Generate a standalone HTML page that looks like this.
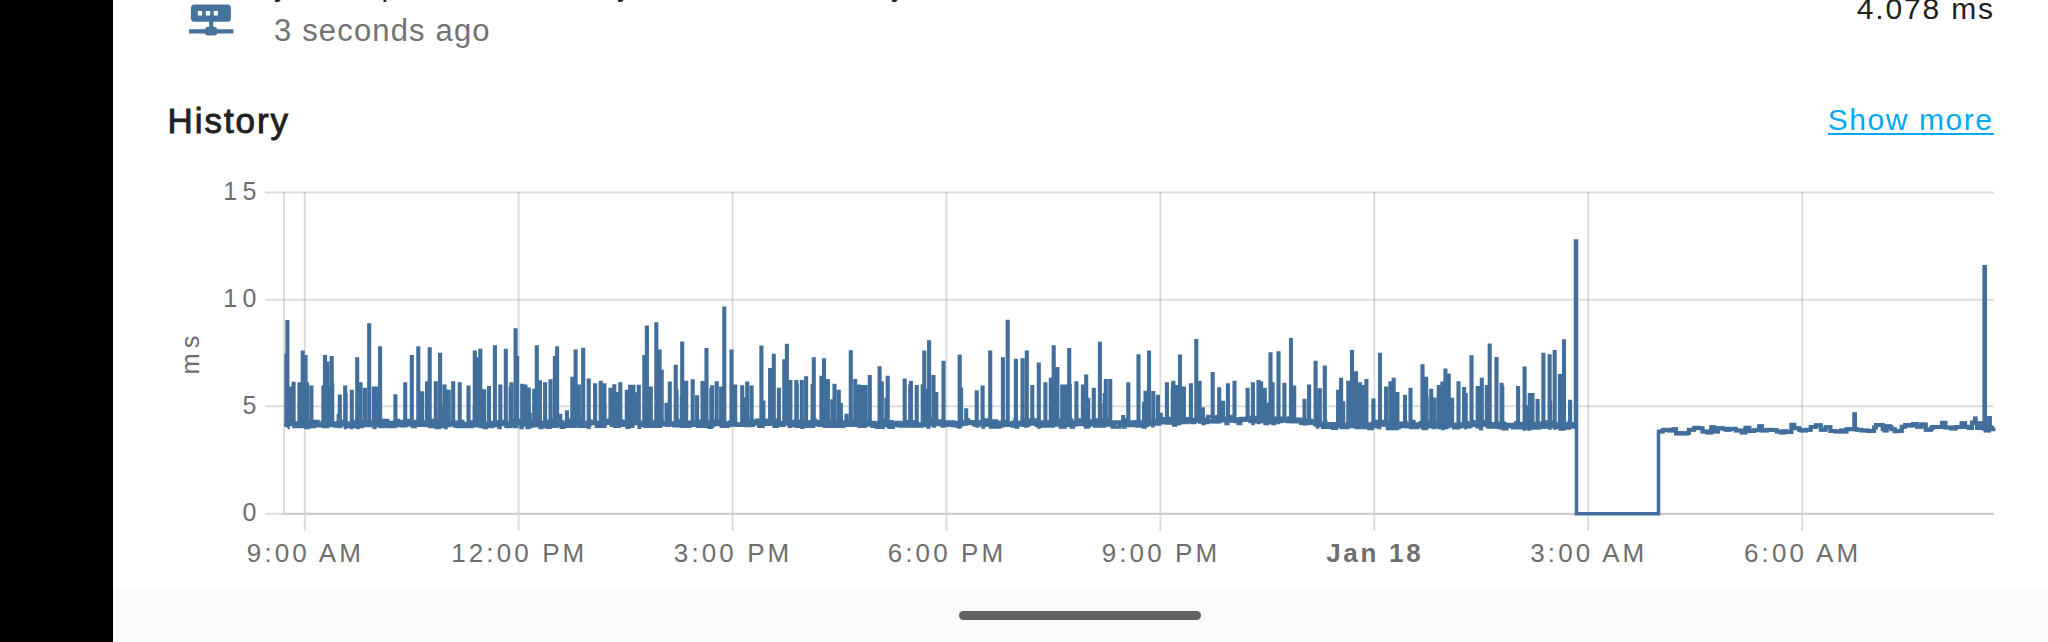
<!DOCTYPE html>
<html><head><meta charset="utf-8"><style>
html,body{margin:0;padding:0;width:2048px;height:642px;overflow:hidden;background:#fff;font-family:"Liberation Sans",sans-serif;}
.abs{position:absolute}
#blk{position:absolute;left:0;top:0;width:112.5px;height:642px;background:#000}
#nav{position:absolute;left:112.5px;top:588px;right:0;bottom:0;background:#fafafa}
#pill{position:absolute;left:959px;top:611px;width:242px;height:9px;border-radius:4.5px;background:#626262}
#uline{position:absolute;left:1828px;top:132.6px;width:166px;height:2.4px;background:#03a9f4}
.t{position:absolute;white-space:nowrap;line-height:1}
.xl{position:absolute;top:540.2px;width:300px;text-align:center;font-size:26px;color:#6e6e6e;letter-spacing:3.1px;line-height:1;white-space:nowrap}
.xl.b{font-weight:bold;letter-spacing:2.72px}
.yl{position:absolute;left:162px;width:100px;text-align:right;font-size:25px;color:#6e6e6e;line-height:1;letter-spacing:5.5px}
#ms{position:absolute;left:0;top:0;font-size:25.5px;line-height:1;color:#6e6e6e;letter-spacing:5px;transform-origin:0 0;transform:translate(178.3px,374.5px) rotate(-90deg);white-space:nowrap}
</style></head><body>
<div id="blk"></div>
<div id="nav"></div>
<div id="pill"></div>
<svg class="abs" style="left:0;top:0" width="260" height="50" viewBox="0 0 260 50">
<path fill="#44739e" d="M194.4 4.4 H227.4 A3.5 3.5 0 0 1 230.9 7.9 V18.3 A3.5 3.5 0 0 1 227.4 21.8 H213.1 V26.8 H214.2 A3.2 3.2 0 0 1 217.4 29.3 H233.5 V33.4 H217.4 A3.2 3.2 0 0 1 214.2 35.5 H208.1 A3.2 3.2 0 0 1 204.9 33.4 H189 V29.3 H204.9 A3.2 3.2 0 0 1 208.1 26.8 H209.2 V21.8 H194.4 A3.5 3.5 0 0 1 190.9 18.3 V7.9 A3.5 3.5 0 0 1 194.4 4.4 Z M197.8 10.9 V15.6 H202.1 V10.9 Z M205.8 10.9 V15.6 H210.1 V10.9 Z M213.7 10.9 V15.6 H218 V10.9 Z"/>
</svg>
<div class="t" id="d1" style="left:274px;top:-29.00px;font-size:30px;color:#212121;">y</div>
<div class="t" id="d2" style="left:381.5px;top:-29.00px;font-size:30px;color:#212121;">p</div>
<div class="t" id="d3" style="left:617px;top:-29.00px;font-size:30px;color:#212121;">y</div>
<div class="t" id="d4" style="left:891px;top:-29.00px;font-size:30px;color:#212121;">y</div>
<div class="t" id="ago" style="left:274px;top:15.36px;font-size:31px;color:#727272;letter-spacing:1.16px">3 seconds ago</div>
<div class="t" id="val" style="left:1856.7px;top:-6.20px;font-size:30px;color:#212121;letter-spacing:1.86px">4.078 ms</div>
<div class="t" id="hist" style="left:167.5px;top:102.67px;font-size:35px;color:#212121;letter-spacing:1.95px;-webkit-text-stroke:0.9px #212121">History</div>
<div class="t" id="more" style="left:1827.7px;top:105.20px;font-size:30px;color:#03a9f4;letter-spacing:1.57px">Show more</div>
<div id="uline"></div>
<svg width="2048" height="642" viewBox="0 0 2048 642" style="position:absolute;left:0;top:0">
<line x1="265" y1="192.6" x2="1994" y2="192.6" stroke="#000" stroke-opacity="0.135" stroke-width="2"/>
<line x1="265" y1="299.8" x2="1994" y2="299.8" stroke="#000" stroke-opacity="0.135" stroke-width="2"/>
<line x1="265" y1="406.3" x2="1994" y2="406.3" stroke="#000" stroke-opacity="0.135" stroke-width="2"/>
<line x1="265" y1="513.8" x2="284" y2="513.8" stroke="#000" stroke-opacity="0.135" stroke-width="2"/>
<line x1="304.8" y1="192" x2="304.8" y2="531" stroke="#000" stroke-opacity="0.135" stroke-width="2"/>
<line x1="518.7" y1="192" x2="518.7" y2="531" stroke="#000" stroke-opacity="0.135" stroke-width="2"/>
<line x1="732.6" y1="192" x2="732.6" y2="531" stroke="#000" stroke-opacity="0.135" stroke-width="2"/>
<line x1="946.5" y1="192" x2="946.5" y2="531" stroke="#000" stroke-opacity="0.135" stroke-width="2"/>
<line x1="1160.4" y1="192" x2="1160.4" y2="531" stroke="#000" stroke-opacity="0.135" stroke-width="2"/>
<line x1="1374.3" y1="192" x2="1374.3" y2="531" stroke="#000" stroke-opacity="0.135" stroke-width="2"/>
<line x1="1588.2" y1="192" x2="1588.2" y2="531" stroke="#000" stroke-opacity="0.135" stroke-width="2"/>
<line x1="1802.1" y1="192" x2="1802.1" y2="531" stroke="#000" stroke-opacity="0.135" stroke-width="2"/>
<line x1="284" y1="192" x2="284" y2="513.8" stroke="#000" stroke-opacity="0.135" stroke-width="2"/>
<line x1="283" y1="513.8" x2="1994" y2="513.8" stroke="#cccccc" stroke-width="2.2"/>
<path d="M284.0 425.0 L286.1 425.0 L286.1 355.6 L286.7 355.6 L286.7 422.5 L287.1 422.5 L287.1 321.8 L287.7 321.8 L287.7 427.5 L287.6 427.5 L287.6 427.5 L288.0 427.5 L288.0 393.3 L288.6 393.3 L288.6 420.5 L290.4 420.5 L290.4 388.3 L291.0 388.3 L291.0 423.5 L290.8 423.5 L290.8 421.5 L292.8 421.5 L292.8 422.5 L292.6 422.5 L292.6 393.8 L293.2 393.8 L293.2 421.5 L293.3 421.5 L293.3 383.5 L293.9 383.5 L293.9 426.5 L296.1 426.5 L296.1 426.5 L299.2 426.5 L299.2 420.5 L299.1 420.5 L299.1 384.0 L299.7 384.0 L299.7 423.5 L302.5 423.5 L302.5 426.5 L302.4 426.5 L302.4 352.3 L303.0 352.3 L303.0 426.5 L305.0 426.5 L305.0 421.5 L305.3 421.5 L305.3 356.7 L305.9 356.7 L305.9 427.5 L306.8 427.5 L306.8 384.0 L307.4 384.0 L307.4 427.5 L308.5 427.5 L308.5 421.5 L311.1 421.5 L311.1 387.2 L311.7 387.2 L311.7 421.5 L311.8 421.5 L311.8 426.5 L314.3 426.5 L314.3 421.5 L318.0 421.5 L318.0 423.5 L321.5 423.5 L321.5 423.5 L323.1 423.5 L323.1 387.2 L323.7 387.2 L323.7 426.5 L323.9 426.5 L323.9 426.5 L324.7 426.5 L324.7 356.7 L325.3 356.7 L325.3 421.5 L327.1 421.5 L327.1 363.2 L327.7 363.2 L327.7 426.5 L327.6 426.5 L327.6 424.5 L327.8 424.5 L327.8 387.7 L328.4 387.7 L328.4 423.5 L331.2 423.5 L331.2 421.5 L331.4 421.5 L331.4 357.8 L332.0 357.8 L332.0 425.5 L331.9 425.5 L331.9 385.1 L332.5 385.1 L332.5 424.5 L334.4 424.5 L334.4 424.5 L337.6 424.5 L337.6 422.5 L338.4 422.5 L338.4 415.6 L339.0 415.6 L339.0 420.5 L339.6 420.5 L339.6 426.5 L339.5 426.5 L339.5 396.2 L340.1 396.2 L340.1 421.5 L342.2 421.5 L342.2 423.5 L344.9 423.5 L344.9 387.2 L345.5 387.2 L345.5 424.5 L345.5 424.5 L345.5 427.5 L345.4 427.5 L345.4 394.9 L346.0 394.9 L346.0 426.5 L348.1 426.5 L348.1 426.5 L351.6 426.5 L351.6 427.5 L351.5 427.5 L351.5 391.6 L352.1 391.6 L352.1 421.5 L354.0 421.5 L354.0 426.5 L356.0 426.5 L356.0 426.5 L356.9 426.5 L356.9 358.9 L357.5 358.9 L357.5 427.5 L358.2 427.5 L358.2 426.5 L360.2 426.5 L360.2 384.0 L360.8 384.0 L360.8 426.5 L362.2 426.5 L362.2 423.5 L364.6 423.5 L364.6 389.4 L365.2 389.4 L365.2 423.5 L366.0 423.5 L366.0 421.5 L369.2 421.5 L369.2 422.5 L368.9 422.5 L368.9 325.1 L369.5 325.1 L369.5 424.5 L372.7 424.5 L372.7 425.4 L373.6 425.4 L373.6 388.3 L374.2 388.3 L374.2 427.4 L374.9 427.4 L374.9 424.4 L376.6 424.4 L376.6 388.3 L377.2 388.3 L377.2 425.4 L378.7 425.4 L378.7 423.4 L379.8 423.4 L379.8 348.0 L380.4 348.0 L380.4 426.4 L381.7 426.4 L381.7 426.4 L383.8 426.4 L383.8 420.4 L387.7 420.4 L387.7 426.4 L390.5 426.4 L390.5 422.4 L393.3 422.4 L393.3 426.4 L395.1 426.4 L395.1 396.0 L395.7 396.0 L395.7 425.4 L395.9 425.4 L395.9 420.4 L398.6 420.4 L398.6 425.4 L402.3 425.4 L402.3 421.4 L404.9 421.4 L404.9 384.0 L405.5 384.0 L405.5 423.4 L406.1 423.4 L406.1 420.4 L409.9 420.4 L409.9 424.4 L411.5 424.4 L411.5 356.7 L412.1 356.7 L412.1 421.4 L412.5 421.4 L412.5 426.4 L415.2 426.4 L415.2 421.4 L418.0 421.4 L418.0 426.4 L418.0 426.4 L418.0 348.0 L418.6 348.0 L418.6 420.4 L421.5 420.4 L421.5 424.4 L421.9 424.4 L421.9 392.9 L422.5 392.9 L422.5 424.4 L423.7 424.4 L423.7 422.4 L426.2 422.4 L426.2 424.4 L426.7 424.4 L426.7 382.9 L427.3 382.9 L427.3 425.4 L429.0 425.4 L429.0 423.4 L429.4 423.4 L429.4 349.1 L430.0 349.1 L430.0 426.4 L432.6 426.4 L432.6 420.4 L435.5 420.4 L435.5 382.9 L436.1 382.9 L436.1 426.4 L436.2 426.4 L436.2 427.4 L439.3 427.4 L439.3 421.4 L439.8 421.4 L439.8 354.5 L440.4 354.5 L440.4 426.4 L441.0 426.4 L441.0 407.0 L441.6 407.0 L441.6 426.4 L441.4 426.4 L441.4 422.4 L444.2 422.4 L444.2 386.2 L444.8 386.2 L444.8 424.4 L444.7 424.4 L444.7 426.4 L445.2 426.4 L445.2 391.1 L445.8 391.1 L445.8 427.4 L446.0 427.4 L446.0 394.3 L446.6 394.3 L446.6 422.4 L446.8 422.4 L446.8 422.4 L448.5 422.4 L448.5 391.6 L449.1 391.6 L449.1 425.4 L449.7 425.4 L449.7 424.4 L452.3 424.4 L452.3 424.4 L452.9 424.4 L452.9 382.9 L453.5 382.9 L453.5 423.4 L455.1 423.4 L455.1 424.4 L458.1 424.4 L458.1 426.4 L459.4 426.4 L459.4 384.0 L460.0 384.0 L460.0 422.4 L460.4 422.4 L460.4 421.4 L462.8 421.4 L462.8 426.4 L465.9 426.4 L465.9 426.4 L468.2 426.4 L468.2 387.2 L468.8 387.2 L468.8 426.4 L469.7 426.4 L469.7 426.4 L472.0 426.4 L472.0 423.4 L474.5 423.4 L474.5 422.4 L474.3 422.4 L474.3 407.8 L474.9 407.8 L474.9 421.4 L474.5 421.4 L474.5 352.3 L475.1 352.3 L475.1 425.4 L477.1 425.4 L477.1 423.4 L477.1 423.4 L477.1 358.9 L477.7 358.9 L477.7 423.4 L479.9 423.4 L479.9 420.4 L480.0 420.4 L480.0 350.6 L480.6 350.6 L480.6 426.4 L483.4 426.4 L483.4 426.4 L483.9 426.4 L483.9 391.0 L484.5 391.0 L484.5 427.4 L486.2 427.4 L486.2 423.4 L489.0 423.4 L489.0 425.4 L488.7 425.4 L488.7 387.7 L489.3 387.7 L489.3 426.4 L492.5 426.4 L492.5 424.4 L494.6 424.4 L494.6 346.9 L495.2 346.9 L495.2 425.4 L495.6 425.4 L495.6 422.4 L499.0 422.4 L499.0 427.4 L500.0 427.4 L500.0 386.2 L500.6 386.2 L500.6 423.4 L502.2 423.4 L502.2 421.4 L504.8 421.4 L504.8 423.4 L505.5 423.4 L505.5 350.6 L506.1 350.6 L506.1 426.4 L507.5 426.4 L507.5 426.4 L510.3 426.4 L510.3 388.4 L510.9 388.4 L510.9 420.4 L511.0 420.4 L511.0 384.0 L511.6 384.0 L511.6 422.4 L511.5 422.4 L511.5 420.4 L514.3 420.4 L514.3 426.4 L515.3 426.4 L515.3 329.9 L515.9 329.9 L515.9 426.4 L516.8 426.4 L516.8 357.8 L517.4 357.8 L517.4 420.4 L518.2 420.4 L518.2 421.4 L521.0 421.4 L521.0 427.4 L521.9 427.4 L521.9 385.5 L522.5 385.5 L522.5 426.4 L522.3 426.4 L522.3 389.2 L522.9 389.2 L522.9 423.4 L524.7 423.4 L524.7 421.4 L525.1 421.4 L525.1 386.2 L525.7 386.2 L525.7 422.4 L527.2 422.4 L527.2 427.4 L528.5 427.4 L528.5 389.2 L529.1 389.2 L529.1 421.4 L529.5 421.4 L529.5 414.5 L530.1 414.5 L530.1 426.4 L531.1 426.4 L531.1 421.4 L533.9 421.4 L533.9 390.5 L534.5 390.5 L534.5 420.4 L534.2 420.4 L534.2 420.4 L534.4 420.4 L534.4 399.1 L535.0 399.1 L535.0 423.4 L536.5 423.4 L536.5 346.9 L537.1 346.9 L537.1 420.4 L537.8 420.4 L537.8 424.4 L539.3 424.4 L539.3 394.9 L539.9 394.9 L539.9 424.4 L539.6 424.4 L539.6 382.1 L540.2 382.1 L540.2 427.4 L541.7 427.4 L541.7 426.4 L544.8 426.4 L544.8 384.0 L545.4 384.0 L545.4 421.3 L545.1 421.3 L545.1 421.3 L547.3 421.3 L547.3 427.3 L550.2 427.3 L550.2 381.1 L550.8 381.1 L550.8 423.3 L551.1 423.3 L551.1 426.3 L553.7 426.3 L553.7 420.3 L554.6 420.3 L554.6 357.8 L555.2 357.8 L555.2 424.3 L555.7 424.3 L555.7 426.3 L556.8 426.3 L556.8 348.0 L557.4 348.0 L557.4 425.3 L558.2 425.3 L558.2 423.3 L560.0 423.3 L560.0 415.6 L560.6 415.6 L560.6 423.3 L561.2 423.3 L561.2 427.3 L563.7 427.3 L563.7 426.3 L566.6 426.3 L566.6 411.9 L567.2 411.9 L567.2 424.3 L567.1 424.3 L567.1 420.3 L569.1 420.3 L569.1 426.3 L572.0 426.3 L572.0 378.5 L572.6 378.5 L572.6 426.3 L572.9 426.3 L572.9 421.3 L575.4 421.3 L575.4 426.3 L575.3 426.3 L575.3 351.3 L575.9 351.3 L575.9 423.3 L578.6 423.3 L578.6 386.2 L579.2 386.2 L579.2 426.3 L579.3 426.3 L579.3 420.3 L582.7 420.3 L582.7 426.3 L582.9 426.3 L582.9 349.5 L583.5 349.5 L583.5 426.3 L585.4 426.3 L585.4 423.3 L587.4 423.3 L587.4 424.3 L588.4 424.3 L588.4 380.3 L589.0 380.3 L589.0 427.3 L588.4 427.3 L588.4 392.2 L589.0 392.2 L589.0 421.3 L590.9 421.3 L590.9 423.3 L593.9 423.3 L593.9 423.3 L594.8 423.3 L594.8 384.9 L595.4 384.9 L595.4 423.3 L594.9 423.3 L594.9 389.0 L595.5 389.0 L595.5 423.3 L596.5 423.3 L596.5 426.3 L598.9 426.3 L598.9 424.3 L600.4 424.3 L600.4 382.4 L601.0 382.4 L601.0 426.3 L601.2 426.3 L601.2 422.3 L604.1 422.3 L604.1 385.1 L604.7 385.1 L604.7 426.3 L604.3 426.3 L604.3 406.7 L604.9 406.7 L604.9 426.3 L605.0 426.3 L605.0 420.3 L608.9 420.3 L608.9 422.3 L610.2 422.3 L610.2 389.4 L610.8 389.4 L610.8 420.3 L612.7 420.3 L612.7 423.3 L614.0 423.3 L614.0 385.9 L614.6 385.9 L614.6 422.3 L614.7 422.3 L614.7 426.3 L616.8 426.3 L616.8 420.3 L616.7 420.3 L616.7 393.8 L617.3 393.8 L617.3 426.3 L619.2 426.3 L619.2 425.3 L620.0 425.3 L620.0 384.0 L620.6 384.0 L620.6 421.3 L622.7 421.3 L622.7 422.3 L625.3 422.3 L625.3 422.3 L626.5 422.3 L626.5 391.6 L627.1 391.6 L627.1 427.3 L628.6 427.3 L628.6 426.3 L629.8 426.3 L629.8 386.6 L630.4 386.6 L630.4 426.3 L630.7 426.3 L630.7 425.3 L632.2 425.3 L632.2 401.2 L632.8 401.2 L632.8 426.3 L632.6 426.3 L632.6 394.3 L633.2 394.3 L633.2 422.3 L633.1 422.3 L633.1 386.6 L633.7 386.6 L633.7 421.3 L634.7 421.3 L634.7 420.3 L636.8 420.3 L636.8 421.3 L636.8 421.3 L636.8 394.1 L637.4 394.1 L637.4 421.3 L638.5 421.3 L638.5 386.6 L639.1 386.6 L639.1 427.3 L639.5 427.3 L639.5 423.3 L642.3 423.3 L642.3 424.3 L644.0 424.3 L644.0 356.7 L644.6 356.7 L644.6 426.3 L645.9 426.3 L645.9 421.3 L646.6 421.3 L646.6 327.3 L647.2 327.3 L647.2 426.3 L648.0 426.3 L648.0 423.3 L650.8 423.3 L650.8 426.3 L650.5 426.3 L650.5 388.3 L651.1 388.3 L651.1 425.3 L653.2 425.3 L653.2 426.3 L655.2 426.3 L655.2 426.3 L656.0 426.3 L656.0 324.0 L656.6 324.0 L656.6 426.3 L657.7 426.3 L657.7 420.3 L659.3 420.3 L659.3 351.3 L659.9 351.3 L659.9 426.3 L660.5 426.3 L660.5 421.3 L660.9 421.3 L660.9 396.1 L661.5 396.1 L661.5 420.3 L661.4 420.3 L661.4 371.5 L662.0 371.5 L662.0 424.3 L664.1 424.3 L664.1 423.3 L666.2 423.3 L666.2 404.4 L666.8 404.4 L666.8 425.3 L667.6 425.3 L667.6 425.3 L669.5 425.3 L669.5 383.3 L670.1 383.3 L670.1 420.3 L670.1 420.3 L670.1 424.3 L673.6 424.3 L673.6 425.3 L675.4 425.3 L675.4 366.5 L676.0 366.5 L676.0 424.3 L676.3 424.3 L676.3 391.2 L676.9 391.2 L676.9 420.3 L677.5 420.3 L677.5 421.3 L679.5 421.3 L679.5 423.3 L681.7 423.3 L681.7 426.3 L681.5 426.3 L681.5 397.9 L682.1 397.9 L682.1 426.3 L681.9 426.3 L681.9 343.2 L682.5 343.2 L682.5 424.3 L685.6 424.3 L685.6 426.3 L685.9 426.3 L685.9 401.2 L686.5 401.2 L686.5 422.3 L685.9 422.3 L685.9 382.4 L686.5 382.4 L686.5 426.3 L689.3 426.3 L689.3 422.3 L691.3 422.3 L691.3 424.3 L692.4 424.3 L692.4 381.1 L693.0 381.1 L693.0 422.3 L694.9 422.3 L694.9 423.3 L696.8 423.3 L696.8 397.1 L697.4 397.1 L697.4 425.3 L697.6 425.3 L697.6 426.3 L700.3 426.3 L700.3 421.3 L702.2 421.3 L702.2 382.8 L702.8 382.8 L702.8 426.3 L703.3 426.3 L703.3 422.3 L705.8 422.3 L705.8 421.3 L706.2 421.3 L706.2 349.7 L706.8 349.7 L706.8 426.3 L709.1 426.3 L709.1 427.3 L711.0 427.3 L711.0 389.4 L711.6 389.4 L711.6 422.3 L711.8 422.3 L711.8 387.0 L712.4 387.0 L712.4 426.3 L712.2 426.3 L712.2 421.3 L716.2 421.3 L716.2 424.3 L716.4 424.3 L716.4 382.9 L717.0 382.9 L717.0 423.3 L719.4 423.3 L719.4 421.2 L720.8 421.2 L720.8 388.3 L721.4 388.3 L721.4 426.2 L722.3 426.2 L722.3 422.2 L724.0 422.2 L724.0 308.3 L724.6 308.3 L724.6 426.2 L724.8 426.2 L724.8 426.2 L728.0 426.2 L728.0 423.2 L731.5 423.2 L731.5 421.2 L731.2 421.2 L731.2 351.3 L731.8 351.3 L731.8 424.2 L735.0 424.2 L735.0 424.2 L734.9 424.2 L734.9 386.2 L735.5 386.2 L735.5 424.2 L737.6 424.2 L737.6 425.2 L740.1 425.2 L740.1 424.2 L741.9 424.2 L741.9 387.1 L742.5 387.1 L742.5 423.2 L742.5 423.2 L742.5 422.2 L745.0 422.2 L745.0 422.2 L745.6 422.2 L745.6 399.0 L746.2 399.0 L746.2 423.2 L746.9 423.2 L746.9 383.3 L747.5 383.3 L747.5 425.2 L747.6 425.2 L747.6 421.2 L750.4 421.2 L750.4 423.2 L751.3 423.2 L751.3 387.2 L751.9 387.2 L751.9 423.2 L753.4 423.2 L753.4 421.2 L756.7 421.2 L756.7 420.2 L758.9 420.2 L758.9 426.2 L761.1 426.2 L761.1 347.3 L761.7 347.3 L761.7 423.2 L762.7 423.2 L762.7 426.2 L763.1 426.2 L763.1 402.3 L763.7 402.3 L763.7 420.2 L766.5 420.2 L766.5 424.2 L768.9 424.2 L768.9 420.2 L769.8 420.2 L769.8 369.8 L770.4 369.8 L770.4 423.2 L771.3 423.2 L771.3 421.2 L773.5 421.2 L773.5 355.6 L774.1 355.6 L774.1 422.2 L774.1 422.2 L774.1 426.2 L777.3 426.2 L777.3 420.2 L778.6 420.2 L778.6 389.4 L779.2 389.4 L779.2 425.2 L779.5 425.2 L779.5 423.2 L781.6 423.2 L781.6 425.2 L783.8 425.2 L783.8 423.2 L784.0 423.2 L784.0 361.1 L784.6 361.1 L784.6 420.2 L786.6 420.2 L786.6 345.4 L787.2 345.4 L787.2 423.2 L787.8 423.2 L787.8 420.2 L788.7 420.2 L788.7 406.6 L789.3 406.6 L789.3 426.2 L790.1 426.2 L790.1 381.8 L790.7 381.8 L790.7 425.2 L791.5 425.2 L791.5 422.2 L794.7 422.2 L794.7 421.2 L796.0 421.2 L796.0 381.8 L796.6 381.8 L796.6 426.2 L796.5 426.2 L796.5 385.3 L797.1 385.3 L797.1 427.2 L797.1 427.2 L797.1 426.2 L799.3 426.2 L799.3 421.2 L801.5 421.2 L801.5 381.8 L802.1 381.8 L802.1 427.2 L802.8 427.2 L802.8 422.2 L806.1 422.2 L806.1 421.2 L805.8 421.2 L805.8 378.1 L806.4 378.1 L806.4 426.2 L809.4 426.2 L809.4 424.2 L812.3 424.2 L812.3 424.2 L812.3 424.2 L812.3 385.8 L812.9 385.8 L812.9 426.2 L813.5 426.2 L813.5 358.9 L814.1 358.9 L814.1 420.2 L815.6 420.2 L815.6 424.2 L819.1 424.2 L819.1 425.2 L821.1 425.2 L821.1 377.4 L821.7 377.4 L821.7 420.2 L821.9 420.2 L821.9 425.2 L823.7 425.2 L823.7 360.0 L824.3 360.0 L824.3 426.2 L825.2 426.2 L825.2 426.2 L827.6 426.2 L827.6 420.2 L827.6 420.2 L827.6 380.7 L828.2 380.7 L828.2 422.2 L830.5 422.2 L830.5 426.2 L832.0 426.2 L832.0 400.9 L832.6 400.9 L832.6 421.2 L832.7 421.2 L832.7 426.2 L834.2 426.2 L834.2 385.5 L834.8 385.5 L834.8 425.2 L835.9 425.2 L835.9 426.2 L838.5 426.2 L838.5 391.6 L839.1 391.6 L839.1 422.2 L839.4 422.2 L839.4 420.2 L840.6 420.2 L840.6 404.7 L841.2 404.7 L841.2 422.2 L841.5 422.2 L841.5 426.2 L843.7 426.2 L843.7 425.2 L846.2 425.2 L846.2 415.6 L846.8 415.6 L846.8 422.2 L847.2 422.2 L847.2 422.2 L849.9 422.2 L849.9 422.2 L850.5 422.2 L850.5 351.9 L851.1 351.9 L851.1 421.2 L852.9 421.2 L852.9 421.2 L854.9 421.2 L854.9 380.7 L855.5 380.7 L855.5 423.2 L855.7 423.2 L855.7 424.2 L857.9 424.2 L857.9 420.2 L858.6 420.2 L858.6 386.2 L859.2 386.2 L859.2 426.2 L859.9 426.2 L859.9 395.0 L860.5 395.0 L860.5 425.2 L861.9 425.2 L861.9 420.2 L861.9 420.2 L861.9 386.8 L862.5 386.8 L862.5 426.2 L865.1 426.2 L865.1 421.2 L865.2 421.2 L865.2 386.8 L865.8 386.8 L865.8 422.2 L868.9 422.2 L868.9 423.2 L869.5 423.2 L869.5 376.8 L870.1 376.8 L870.1 423.2 L872.1 423.2 L872.1 426.2 L874.5 426.2 L874.5 423.2 L876.6 423.2 L876.6 427.2 L878.9 427.2 L878.9 425.2 L879.3 425.2 L879.3 368.0 L879.9 368.0 L879.9 423.2 L881.1 423.2 L881.1 423.2 L881.5 423.2 L881.5 382.9 L882.1 382.9 L882.1 427.2 L883.2 427.2 L883.2 420.2 L886.1 420.2 L886.1 399.2 L886.7 399.2 L886.7 425.2 L886.6 425.2 L886.6 421.2 L887.4 421.2 L887.4 377.4 L888.0 377.4 L888.0 426.2 L889.3 426.2 L889.3 427.2 L893.0 427.2 L893.0 424.1 L896.3 424.1 L896.3 424.1 L899.5 424.1 L899.5 426.1 L902.3 426.1 L902.3 425.1 L904.4 425.1 L904.4 380.3 L905.0 380.3 L905.0 426.1 L905.2 426.1 L905.2 422.1 L907.2 422.1 L907.2 426.1 L910.1 426.1 L910.1 426.1 L909.9 426.1 L909.9 386.2 L910.5 386.2 L910.5 426.1 L910.6 426.1 L910.6 382.5 L911.2 382.5 L911.2 422.1 L913.7 422.1 L913.7 426.1 L916.5 426.1 L916.5 421.1 L916.4 421.1 L916.4 386.8 L917.0 386.8 L917.0 426.1 L918.7 426.1 L918.7 425.1 L920.9 425.1 L920.9 426.1 L922.4 426.1 L922.4 385.9 L923.0 385.9 L923.0 420.1 L923.9 420.1 L923.9 420.1 L924.0 420.1 L924.0 352.3 L924.6 352.3 L924.6 421.1 L927.2 421.1 L927.2 425.1 L927.3 425.1 L927.3 390.5 L927.9 390.5 L927.9 427.1 L928.8 427.1 L928.8 341.9 L929.4 341.9 L929.4 421.1 L930.8 421.1 L930.8 420.1 L933.2 420.1 L933.2 376.8 L933.8 376.8 L933.8 426.1 L934.3 426.1 L934.3 422.1 L936.3 422.1 L936.3 421.1 L936.0 421.1 L936.0 393.8 L936.6 393.8 L936.6 421.1 L940.3 421.1 L940.3 423.1 L942.6 423.1 L942.6 426.1 L943.2 426.1 L943.2 362.6 L943.8 362.6 L943.8 422.1 L945.1 422.1 L945.1 423.1 L947.3 423.1 L947.3 425.1 L950.5 425.1 L950.5 424.1 L952.8 424.1 L952.8 424.1 L956.6 424.1 L956.6 426.1 L958.9 426.1 L958.9 427.1 L959.4 427.1 L959.4 356.3 L960.0 356.3 L960.0 426.1 L960.8 426.1 L960.8 389.2 L961.4 389.2 L961.4 423.1 L962.8 423.1 L962.8 424.1 L966.1 424.1 L966.1 423.1 L965.9 423.1 L965.9 410.1 L966.5 410.1 L966.5 420.1 L968.7 420.1 L968.7 423.1 L971.1 423.1 L971.1 422.1 L974.3 422.1 L974.3 424.1 L976.4 424.1 L976.4 392.0 L977.0 392.0 L977.0 426.1 L977.7 426.1 L977.7 422.1 L981.3 422.1 L981.3 424.1 L982.3 424.1 L982.3 387.2 L982.9 387.2 L982.9 427.1 L983.5 427.1 L983.5 420.1 L986.8 420.1 L986.8 425.1 L989.9 425.1 L989.9 352.3 L990.5 352.3 L990.5 426.1 L990.7 426.1 L990.7 427.1 L993.8 427.1 L993.8 421.1 L996.3 421.1 L996.3 427.1 L999.5 427.1 L999.5 426.1 L1002.6 426.1 L1002.6 358.9 L1003.2 358.9 L1003.2 425.1 L1003.0 425.1 L1003.0 424.1 L1005.8 424.1 L1005.8 425.1 L1007.4 425.1 L1007.4 321.4 L1008.0 321.4 L1008.0 425.1 L1008.9 425.1 L1008.9 425.1 L1012.4 425.1 L1012.4 426.1 L1014.9 426.1 L1014.9 420.1 L1015.6 420.1 L1015.6 360.6 L1016.2 360.6 L1016.2 427.1 L1017.5 427.1 L1017.5 424.1 L1020.1 424.1 L1020.1 425.1 L1022.2 425.1 L1022.2 360.0 L1022.8 360.0 L1022.8 420.1 L1023.6 420.1 L1023.6 423.1 L1025.9 423.1 L1025.9 426.1 L1026.5 426.1 L1026.5 352.3 L1027.1 352.3 L1027.1 425.1 L1028.7 425.1 L1028.7 420.1 L1031.0 420.1 L1031.0 423.1 L1032.0 423.1 L1032.0 386.8 L1032.6 386.8 L1032.6 420.1 L1034.2 420.1 L1034.2 420.1 L1036.3 420.1 L1036.3 425.1 L1038.5 425.1 L1038.5 364.3 L1039.1 364.3 L1039.1 427.1 L1038.9 427.1 L1038.9 425.1 L1042.0 425.1 L1042.0 426.1 L1045.2 426.1 L1045.2 422.1 L1045.1 422.1 L1045.1 384.0 L1045.7 384.0 L1045.7 426.1 L1047.6 426.1 L1047.6 422.1 L1049.8 422.1 L1049.8 423.1 L1050.5 423.1 L1050.5 379.6 L1051.1 379.6 L1051.1 426.1 L1053.2 426.1 L1053.2 421.1 L1053.4 421.1 L1053.4 346.9 L1054.0 346.9 L1054.0 422.1 L1055.4 422.1 L1055.4 424.1 L1057.1 424.1 L1057.1 368.7 L1057.7 368.7 L1057.7 424.1 L1058.2 424.1 L1058.2 420.1 L1060.3 420.1 L1060.3 427.1 L1061.9 427.1 L1061.9 386.2 L1062.5 386.2 L1062.5 426.1 L1064.1 426.1 L1064.1 427.0 L1065.2 427.0 L1065.2 386.2 L1065.8 386.2 L1065.8 423.0 L1067.5 423.0 L1067.5 422.0 L1068.9 422.0 L1068.9 349.7 L1069.5 349.7 L1069.5 420.0 L1069.5 420.0 L1069.5 385.6 L1070.1 385.6 L1070.1 420.0 L1071.4 420.0 L1071.4 427.0 L1073.4 427.0 L1073.4 422.0 L1075.9 422.0 L1075.9 420.0 L1076.1 420.0 L1076.1 382.9 L1076.7 382.9 L1076.7 421.0 L1079.7 421.0 L1079.7 420.0 L1082.6 420.0 L1082.6 386.2 L1083.2 386.2 L1083.2 423.0 L1082.9 423.0 L1082.9 422.0 L1085.8 422.0 L1085.8 427.0 L1085.9 427.0 L1085.9 376.3 L1086.5 376.3 L1086.5 427.0 L1087.9 427.0 L1087.9 399.5 L1088.5 399.5 L1088.5 426.0 L1089.0 426.0 L1089.0 422.0 L1092.0 422.0 L1092.0 421.0 L1093.5 421.0 L1093.5 389.4 L1094.1 389.4 L1094.1 420.0 L1094.6 420.0 L1094.6 426.0 L1098.0 426.0 L1098.0 420.0 L1099.6 420.0 L1099.6 343.6 L1100.2 343.6 L1100.2 426.0 L1100.0 426.0 L1100.0 405.3 L1100.6 405.3 L1100.6 426.0 L1100.8 426.0 L1100.8 421.0 L1104.2 421.0 L1104.2 426.0 L1104.4 426.0 L1104.4 394.7 L1105.0 394.7 L1105.0 421.0 L1104.5 421.0 L1104.5 405.0 L1105.1 405.0 L1105.1 424.0 L1105.5 424.0 L1105.5 380.7 L1106.1 380.7 L1106.1 423.0 L1106.6 423.0 L1106.6 420.0 L1108.8 420.0 L1108.8 424.0 L1109.9 424.0 L1109.9 380.7 L1110.5 380.7 L1110.5 424.0 L1112.3 424.0 L1112.3 427.0 L1115.6 427.0 L1115.6 427.0 L1119.6 427.0 L1119.6 424.0 L1122.9 424.0 L1122.9 423.0 L1122.9 423.0 L1122.9 416.7 L1123.5 416.7 L1123.5 427.0 L1125.0 427.0 L1125.0 420.0 L1127.4 420.0 L1127.4 423.0 L1128.0 423.0 L1128.0 384.0 L1128.6 384.0 L1128.6 423.0 L1131.1 423.0 L1131.1 422.0 L1134.5 422.0 L1134.5 425.0 L1136.9 425.0 L1136.9 426.0 L1138.2 426.0 L1138.2 356.1 L1138.8 356.1 L1138.8 423.0 L1139.6 423.0 L1139.6 426.0 L1143.4 426.0 L1143.4 427.0 L1143.7 427.0 L1143.7 403.6 L1144.3 403.6 L1144.3 427.0 L1145.2 427.0 L1145.2 392.5 L1145.8 392.5 L1145.8 420.0 L1146.3 420.0 L1146.3 420.0 L1148.7 420.0 L1148.7 352.3 L1149.3 352.3 L1149.3 423.0 L1149.2 423.0 L1149.2 424.0 L1152.8 424.0 L1152.8 425.8 L1153.0 425.8 L1153.0 392.7 L1153.6 392.7 L1153.6 420.7 L1156.0 420.7 L1156.0 421.5 L1157.6 421.5 L1157.6 396.4 L1158.2 396.4 L1158.2 419.3 L1158.3 419.3 L1158.3 420.3 L1160.5 420.3 L1160.5 421.1 L1160.5 421.1 L1160.5 414.5 L1161.1 414.5 L1161.1 421.1 L1163.2 421.1 L1163.2 418.8 L1165.3 418.8 L1165.3 420.7 L1166.6 420.7 L1166.6 384.0 L1167.2 384.0 L1167.2 418.5 L1168.7 418.5 L1168.7 419.4 L1172.1 419.4 L1172.1 419.1 L1172.4 419.1 L1172.4 389.7 L1173.0 389.7 L1173.0 423.0 L1172.7 423.0 L1172.7 384.7 L1173.3 384.7 L1173.3 421.0 L1173.1 421.0 L1173.1 382.4 L1173.7 382.4 L1173.7 425.0 L1175.9 425.0 L1175.9 418.7 L1176.8 418.7 L1176.8 386.7 L1177.4 386.7 L1177.4 423.6 L1179.6 423.6 L1179.6 418.4 L1179.7 418.4 L1179.7 356.3 L1180.3 356.3 L1180.3 420.4 L1182.1 420.4 L1182.1 418.2 L1183.6 418.2 L1183.6 388.3 L1184.2 388.3 L1184.2 418.0 L1184.2 418.0 L1184.2 421.0 L1187.1 421.0 L1187.1 418.8 L1189.3 418.8 L1189.3 419.6 L1190.6 419.6 L1190.6 385.1 L1191.2 385.1 L1191.2 421.5 L1191.9 421.5 L1191.9 422.5 L1194.4 422.5 L1194.4 421.5 L1196.0 421.5 L1196.0 340.8 L1196.6 340.8 L1196.6 420.5 L1197.0 420.5 L1197.0 416.5 L1199.3 416.5 L1199.3 382.4 L1199.9 382.4 L1199.9 421.5 L1200.4 421.5 L1200.4 421.5 L1202.6 421.5 L1202.6 409.1 L1203.2 409.1 L1203.2 423.5 L1203.9 423.5 L1203.9 422.5 L1207.6 422.5 L1207.6 416.5 L1211.2 416.5 L1211.2 416.5 L1212.4 416.5 L1212.4 373.7 L1213.0 373.7 L1213.0 417.5 L1214.1 417.5 L1214.1 421.5 L1217.0 421.5 L1217.0 416.5 L1218.9 416.5 L1218.9 389.0 L1219.5 389.0 L1219.5 419.5 L1220.1 419.5 L1220.1 417.5 L1222.8 417.5 L1222.8 402.5 L1223.4 402.5 L1223.4 420.5 L1223.2 420.5 L1223.2 418.5 L1226.1 418.5 L1226.1 423.5 L1227.6 423.5 L1227.6 385.1 L1228.2 385.1 L1228.2 416.5 L1228.5 416.5 L1228.5 416.5 L1231.2 416.5 L1231.2 417.5 L1234.2 417.5 L1234.2 418.5 L1234.2 418.5 L1234.2 382.4 L1234.8 382.4 L1234.8 421.5 L1238.1 421.5 L1238.1 423.5 L1240.7 423.5 L1240.7 418.5 L1243.2 418.5 L1243.2 419.5 L1247.1 419.5 L1247.1 419.5 L1247.3 419.5 L1247.3 389.4 L1247.9 389.4 L1247.9 417.5 L1250.1 417.5 L1250.1 417.5 L1252.6 417.5 L1252.6 383.9 L1253.2 383.9 L1253.2 423.5 L1253.1 423.5 L1253.1 417.5 L1256.3 417.5 L1256.3 421.5 L1258.2 421.5 L1258.2 381.8 L1258.8 381.8 L1258.8 422.5 L1258.5 422.5 L1258.5 417.5 L1260.8 417.5 L1260.8 382.9 L1261.4 382.9 L1261.4 416.5 L1261.4 416.5 L1261.4 421.5 L1263.8 421.5 L1263.8 420.5 L1264.5 420.5 L1264.5 389.4 L1265.1 389.4 L1265.1 423.5 L1266.6 423.5 L1266.6 423.5 L1267.7 423.5 L1267.7 404.4 L1268.3 404.4 L1268.3 419.5 L1269.0 419.5 L1269.0 422.5 L1270.2 422.5 L1270.2 354.1 L1270.8 354.1 L1270.8 416.5 L1271.2 416.5 L1271.2 421.5 L1272.3 421.5 L1272.3 384.0 L1272.9 384.0 L1272.9 423.5 L1274.4 423.5 L1274.4 418.5 L1278.1 418.5 L1278.1 422.5 L1278.2 422.5 L1278.2 353.0 L1278.8 353.0 L1278.8 421.5 L1281.5 421.5 L1281.5 418.5 L1284.4 418.5 L1284.4 420.5 L1284.1 420.5 L1284.1 384.6 L1284.7 384.6 L1284.7 418.5 L1287.5 418.5 L1287.5 421.5 L1290.5 421.5 L1290.5 419.6 L1290.7 419.6 L1290.7 339.7 L1291.3 339.7 L1291.3 420.7 L1293.5 420.7 L1293.5 421.1 L1293.9 421.1 L1293.9 387.2 L1294.5 387.2 L1294.5 419.2 L1297.0 419.2 L1297.0 419.6 L1300.9 419.6 L1300.9 423.2 L1304.1 423.2 L1304.1 423.8 L1304.2 423.8 L1304.2 400.4 L1304.8 400.4 L1304.8 423.8 L1306.5 423.8 L1306.5 422.1 L1309.0 422.1 L1309.0 420.5 L1308.8 420.5 L1308.8 386.2 L1309.4 386.2 L1309.4 420.6 L1311.3 420.6 L1311.3 422.9 L1314.1 422.9 L1314.1 422.4 L1315.3 422.4 L1315.3 362.6 L1315.9 362.6 L1315.9 424.6 L1317.7 424.6 L1317.7 426.9 L1317.5 426.9 L1317.5 400.3 L1318.1 400.3 L1318.1 421.9 L1319.5 421.9 L1319.5 390.1 L1320.1 390.1 L1320.1 422.3 L1320.2 422.3 L1320.2 425.3 L1322.6 425.3 L1322.6 427.3 L1324.5 427.3 L1324.5 367.2 L1325.1 367.2 L1325.1 421.3 L1325.6 421.3 L1325.6 427.3 L1329.3 427.3 L1329.3 427.3 L1332.7 427.3 L1332.7 428.3 L1336.6 428.3 L1336.6 425.3 L1337.8 425.3 L1337.8 391.6 L1338.4 391.6 L1338.4 423.3 L1339.5 423.3 L1339.5 425.4 L1340.8 425.4 L1340.8 379.6 L1341.4 379.6 L1341.4 427.4 L1342.7 427.4 L1342.7 421.4 L1342.9 421.4 L1342.9 402.9 L1343.5 402.9 L1343.5 427.4 L1346.2 427.4 L1346.2 427.4 L1348.0 427.4 L1348.0 382.4 L1348.6 382.4 L1348.6 424.4 L1349.3 424.4 L1349.3 396.3 L1349.9 396.3 L1349.9 423.4 L1349.9 423.4 L1349.9 422.4 L1351.7 422.4 L1351.7 351.7 L1352.3 351.7 L1352.3 426.4 L1352.8 426.4 L1352.8 425.4 L1355.7 425.4 L1355.7 373.1 L1356.3 373.1 L1356.3 422.4 L1356.1 422.4 L1356.1 427.4 L1358.6 427.4 L1358.6 427.4 L1359.6 427.4 L1359.6 384.0 L1360.2 384.0 L1360.2 423.4 L1362.0 423.4 L1362.0 425.4 L1362.6 425.4 L1362.6 386.8 L1363.2 386.8 L1363.2 427.4 L1364.7 427.4 L1364.7 393.6 L1365.3 393.6 L1365.3 427.4 L1365.7 427.4 L1365.7 421.4 L1366.1 421.4 L1366.1 380.7 L1366.7 380.7 L1366.7 427.4 L1368.9 427.4 L1368.9 428.4 L1372.3 428.4 L1372.3 423.4 L1373.1 423.4 L1373.1 400.3 L1373.7 400.3 L1373.7 426.4 L1376.1 426.4 L1376.1 421.5 L1378.9 421.5 L1378.9 427.5 L1379.7 427.5 L1379.7 354.5 L1380.3 354.5 L1380.3 422.5 L1382.7 422.5 L1382.7 421.5 L1385.2 421.5 L1385.2 424.5 L1385.8 424.5 L1385.8 388.3 L1386.4 388.3 L1386.4 424.5 L1387.5 424.5 L1387.5 428.5 L1390.2 428.5 L1390.2 427.5 L1390.1 427.5 L1390.1 382.9 L1390.7 382.9 L1390.7 427.5 L1391.7 427.5 L1391.7 403.6 L1392.3 403.6 L1392.3 428.5 L1393.3 428.5 L1393.3 421.5 L1393.4 421.5 L1393.4 379.6 L1394.0 379.6 L1394.0 426.5 L1396.6 426.5 L1396.6 428.5 L1397.1 428.5 L1397.1 393.8 L1397.7 393.8 L1397.7 427.5 L1399.2 427.5 L1399.2 424.5 L1403.2 424.5 L1403.2 423.5 L1404.7 423.5 L1404.7 396.4 L1405.3 396.4 L1405.3 422.5 L1406.0 422.5 L1406.0 426.5 L1409.3 426.5 L1409.3 425.5 L1410.2 425.5 L1410.2 389.4 L1410.8 389.4 L1410.8 427.5 L1411.8 427.5 L1411.8 421.6 L1413.9 421.6 L1413.9 427.6 L1417.7 427.6 L1417.7 426.6 L1420.8 426.6 L1420.8 422.6 L1422.2 422.6 L1422.2 365.9 L1422.8 365.9 L1422.8 427.6 L1423.3 427.6 L1423.3 428.6 L1425.9 428.6 L1425.9 378.5 L1426.5 378.5 L1426.5 427.6 L1426.4 427.6 L1426.4 398.3 L1427.0 398.3 L1427.0 427.6 L1427.2 427.6 L1427.2 424.6 L1429.6 424.6 L1429.6 422.6 L1430.9 422.6 L1430.9 390.5 L1431.5 390.5 L1431.5 424.6 L1433.2 424.6 L1433.2 427.6 L1434.2 427.6 L1434.2 399.2 L1434.8 399.2 L1434.8 424.6 L1436.5 424.6 L1436.5 423.6 L1438.5 423.6 L1438.5 386.8 L1439.1 386.8 L1439.1 427.6 L1439.2 427.6 L1439.2 427.6 L1442.1 427.6 L1442.1 383.2 L1442.7 383.2 L1442.7 428.6 L1443.2 428.6 L1443.2 423.6 L1445.1 423.6 L1445.1 370.2 L1445.7 370.2 L1445.7 427.6 L1446.7 427.6 L1446.7 426.6 L1448.4 426.6 L1448.4 375.2 L1449.0 375.2 L1449.0 424.7 L1450.3 424.7 L1450.3 425.7 L1451.8 425.7 L1451.8 399.4 L1452.4 399.4 L1452.4 425.7 L1453.7 425.7 L1453.7 427.7 L1457.1 427.7 L1457.1 427.7 L1458.2 427.7 L1458.2 382.9 L1458.8 382.9 L1458.8 425.7 L1459.1 425.7 L1459.1 426.7 L1461.6 426.7 L1461.6 425.7 L1463.8 425.7 L1463.8 388.8 L1464.4 388.8 L1464.4 427.7 L1464.2 427.7 L1464.2 427.7 L1465.4 427.7 L1465.4 394.7 L1466.0 394.7 L1466.0 422.7 L1467.4 422.7 L1467.4 426.7 L1469.8 426.7 L1469.8 425.7 L1471.2 425.7 L1471.2 357.0 L1471.8 357.0 L1471.8 421.7 L1473.5 421.7 L1473.5 422.7 L1477.1 422.7 L1477.1 426.7 L1477.4 426.7 L1477.4 387.8 L1478.0 387.8 L1478.0 423.7 L1480.7 423.7 L1480.7 428.7 L1481.5 428.7 L1481.5 379.6 L1482.1 379.6 L1482.1 421.7 L1484.3 421.7 L1484.3 421.8 L1486.8 421.8 L1486.8 422.8 L1486.5 422.8 L1486.5 386.8 L1487.1 386.8 L1487.1 425.8 L1489.4 425.8 L1489.4 345.3 L1490.0 345.3 L1490.0 422.8 L1490.1 422.8 L1490.1 423.8 L1493.8 423.8 L1493.8 423.8 L1496.2 423.8 L1496.2 358.7 L1496.8 358.7 L1496.8 426.8 L1497.3 426.8 L1497.3 423.8 L1499.8 423.8 L1499.8 427.8 L1501.3 427.8 L1501.3 384.4 L1501.9 384.4 L1501.9 423.8 L1502.0 423.8 L1502.0 387.2 L1502.6 387.2 L1502.6 422.8 L1503.3 422.8 L1503.3 428.8 L1506.9 428.8 L1506.9 425.8 L1509.3 425.8 L1509.3 424.8 L1512.4 424.8 L1512.4 427.8 L1515.7 427.8 L1515.7 422.8 L1517.8 422.8 L1517.8 387.8 L1518.4 387.8 L1518.4 425.8 L1518.8 425.8 L1518.8 427.8 L1521.3 427.8 L1521.3 423.9 L1524.2 423.9 L1524.2 428.9 L1524.3 428.9 L1524.3 368.3 L1524.9 368.3 L1524.9 427.9 L1524.3 427.9 L1524.3 385.7 L1524.9 385.7 L1524.9 423.9 L1526.4 423.9 L1526.4 427.9 L1527.5 427.9 L1527.5 406.9 L1528.1 406.9 L1528.1 423.9 L1528.8 423.9 L1528.8 428.9 L1529.4 428.9 L1529.4 394.7 L1530.0 394.7 L1530.0 421.9 L1532.0 421.9 L1532.0 423.9 L1532.2 423.9 L1532.2 394.7 L1532.8 394.7 L1532.8 427.9 L1535.7 427.9 L1535.7 427.9 L1537.3 427.9 L1537.3 400.8 L1537.9 400.8 L1537.9 427.9 L1539.1 427.9 L1539.1 426.9 L1541.9 426.9 L1541.9 422.9 L1543.1 422.9 L1543.1 354.6 L1543.7 354.6 L1543.7 426.9 L1544.3 426.9 L1544.3 421.9 L1546.3 421.9 L1546.3 421.9 L1549.3 421.9 L1549.3 356.0 L1549.9 356.0 L1549.9 426.9 L1549.7 426.9 L1549.7 422.9 L1549.5 422.9 L1549.5 400.7 L1550.1 400.7 L1550.1 427.9 L1549.8 427.9 L1549.8 403.7 L1550.4 403.7 L1550.4 423.9 L1552.7 423.9 L1552.7 421.9 L1554.4 421.9 L1554.4 351.8 L1555.0 351.8 L1555.0 427.9 L1555.1 427.9 L1555.1 423.9 L1557.8 423.9 L1557.8 427.0 L1559.6 427.0 L1559.6 375.8 L1560.2 375.8 L1560.2 429.0 L1560.5 429.0 L1560.5 429.0 L1563.7 429.0 L1563.7 340.9 L1564.3 340.9 L1564.3 425.0 L1564.0 425.0 L1564.0 426.0 L1566.9 426.0 L1566.9 428.0 L1569.4 428.0 L1569.4 422.0 L1569.8 422.0 L1569.8 401.5 L1570.4 401.5 L1570.4 426.0 L1573.1 426.0 L1573.1 427.0 L1575.5 427.0 L1575.5 241.0 L1576.5 241.0 L1576.5 513.8 L1658.5 513.8 L1658.5 431.6 L1662.7 431.6 L1662.7 430.2 L1664.4 430.2 L1664.4 429.7 L1668.9 429.7 L1668.9 430.6 L1673.2 430.6 L1673.2 429.2 L1676.1 429.2 L1676.1 433.6 L1680.1 433.6 L1680.1 433.1 L1682.0 433.1 L1682.0 433.6 L1686.9 433.6 L1686.9 433.1 L1688.8 433.1 L1688.8 429.7 L1694.2 429.7 L1694.2 427.8 L1698.6 427.8 L1698.6 428.2 L1702.5 428.2 L1702.5 431.6 L1707.4 431.6 L1707.4 432.6 L1711.3 432.6 L1711.3 427.2 L1714.2 427.2 L1714.2 431.6 L1718.1 431.6 L1718.1 428.2 L1723.0 428.2 L1723.0 428.7 L1725.9 428.7 L1725.9 429.7 L1729.8 429.7 L1729.8 428.7 L1735.7 428.7 L1735.7 430.6 L1741.6 430.6 L1741.6 432.6 L1745.5 432.6 L1745.5 427.7 L1749.4 427.7 L1749.4 431.1 L1754.3 431.1 L1754.3 430.2 L1759.1 430.2 L1759.1 426.2 L1762.1 426.2 L1762.1 430.6 L1767.0 430.6 L1767.0 429.7 L1772.0 429.7 L1772.0 430.0 L1776.7 430.0 L1776.7 431.6 L1781.1 431.6 L1781.1 432.5 L1784.4 432.5 L1784.4 431.2 L1786.5 431.2 L1786.5 432.1 L1791.4 432.1 L1791.4 424.8 L1794.3 424.8 L1794.3 428.2 L1799.3 428.2 L1799.3 429.7 L1801.1 429.7 L1801.1 430.6 L1806.0 430.6 L1806.0 429.7 L1810.7 429.7 L1810.7 427.0 L1815.8 427.0 L1815.8 425.3 L1820.7 425.3 L1820.7 429.7 L1825.5 429.7 L1825.5 427.2 L1830.4 427.2 L1830.4 431.1 L1835.3 431.1 L1835.3 431.6 L1841.1 431.6 L1841.1 430.4 L1843.4 430.4 L1843.4 431.4 L1846.5 431.4 L1846.5 429.2 L1848.6 429.2 L1848.6 429.3 L1852.8 429.3 L1852.8 429.3 L1854.4 429.3 L1854.4 414.3 L1855.0 414.3 L1855.0 429.3 L1856.7 429.3 L1856.7 429.7 L1861.4 429.7 L1861.4 430.5 L1864.5 430.5 L1864.5 430.5 L1868.3 430.5 L1868.3 431.0 L1874.1 431.0 L1874.1 427.6 L1876.0 427.6 L1876.0 425.0 L1879.4 425.0 L1879.4 425.0 L1882.7 425.0 L1882.7 428.9 L1884.5 428.9 L1884.5 430.5 L1886.7 430.5 L1886.7 426.3 L1889.7 426.3 L1889.7 427.0 L1891.4 427.0 L1891.4 429.3 L1894.8 429.3 L1894.8 431.2 L1898.2 431.2 L1898.2 431.0 L1901.7 431.0 L1901.7 426.7 L1905.1 426.7 L1905.1 424.9 L1908.5 424.9 L1908.5 425.4 L1912.8 425.4 L1912.8 424.1 L1917.1 424.1 L1917.1 426.7 L1921.4 426.7 L1921.4 424.6 L1925.7 424.6 L1925.7 429.7 L1931.0 429.7 L1931.0 428.2 L1932.5 428.2 L1932.5 427.1 L1938.5 427.1 L1938.5 427.1 L1941.9 427.1 L1941.9 422.8 L1945.4 422.8 L1945.4 427.5 L1951.3 427.5 L1951.3 428.4 L1955.6 428.4 L1955.6 427.1 L1961.6 427.1 L1961.6 423.3 L1965.1 423.3 L1965.1 426.7 L1968.5 426.7 L1968.5 428.0 L1971.9 428.0 L1971.9 422.4 L1973.6 422.4 L1973.6 423.3 L1975.0 423.3 L1975.0 418.6 L1975.6 418.6 L1975.6 423.3 L1977.0 423.3 L1977.0 428.0 L1980.5 428.0 L1980.5 423.3 L1983.9 423.3 L1983.9 428.4 L1984.5 428.4 L1984.5 267.0 L1985.0 267.0 L1985.0 428.4 L1985.6 428.4 L1985.6 430.5 L1989.0 430.5 L1989.0 427.5 L1989.2 427.5 L1989.2 418.1 L1989.8 418.1 L1989.8 427.5 L1991.6 427.5 L1991.6 429.3 L1993.3 429.3 L1993.3 427.5 L1993.5 427.5" fill="none" stroke="#416e9b" stroke-width="3.5" stroke-linejoin="miter"/>
<path d="M285.0 424.0 L289.6 424.0 L289.6 424.0 L291.8 424.0 L291.8 423.6 L295.5 423.6 L295.5 423.8 L299.5 423.8 L299.5 422.9 L303.9 422.9 L303.9 423.6 L307.8 423.6 L307.8 424.4 L311.1 424.4 L311.1 423.6 L315.5 423.6 L315.5 425.3 L319.8 425.3 L319.8 424.2 L322.7 424.2 L322.7 422.7 L327.6 422.7 L327.6 424.6 L332.1 424.6 L332.1 423.5 L335.9 423.5 L335.9 425.4 L340.4 425.4 L340.4 424.3 L343.3 424.3 L343.3 423.8 L348.0 423.8 L348.0 423.6 L352.0 423.6 L352.0 424.3 L356.7 424.3 L356.7 424.9 L359.6 424.9 L359.6 422.5 L362.4 422.5 L362.4 423.7 L366.1 423.7 L366.1 424.9 L370.8 424.9 L370.8 422.6 L375.3 422.6 L375.3 424.9 L379.9 424.9 L379.9 424.2 L382.7 424.2 L382.7 425.0 L387.1 425.0 L387.1 424.5 L391.9 424.5 L391.9 423.5 L394.1 423.5 L394.1 424.1 L398.5 424.1 L398.5 423.0 L402.8 423.0 L402.8 425.2 L405.5 425.2 L405.5 424.3 L409.5 424.3 L409.5 423.8 L412.1 423.8 L412.1 423.2 L416.4 423.2 L416.4 424.8 L419.8 424.8 L419.8 422.7 L424.2 422.7 L424.2 424.7 L426.9 424.7 L426.9 424.2 L431.6 424.2 L431.6 425.1 L435.1 425.1 L435.1 423.8 L438.9 423.8 L438.9 423.0 L441.5 423.0 L441.5 423.0 L445.6 423.0 L445.6 423.5 L449.3 423.5 L449.3 423.6 L452.8 423.6 L452.8 422.8 L455.0 422.8 L455.0 425.4 L458.1 425.4 L458.1 422.7 L462.0 422.7 L462.0 424.8 L464.5 424.8 L464.5 424.2 L467.5 424.2 L467.5 424.0 L469.6 424.0 L469.6 422.5 L474.5 422.5 L474.5 425.0 L478.0 425.0 L478.0 424.1 L480.8 424.1 L480.8 424.7 L484.0 424.7 L484.0 425.2 L488.3 425.2 L488.3 424.8 L493.2 424.8 L493.2 423.1 L495.4 423.1 L495.4 423.0 L497.9 423.0 L497.9 422.6 L500.0 422.6 L500.0 424.0 L504.7 424.0 L504.7 423.7 L509.5 423.7 L509.5 425.1 L511.7 425.1 L511.7 424.2 L514.9 424.2 L514.9 422.7 L519.8 422.7 L519.8 423.1 L523.5 423.1 L523.5 424.3 L528.3 424.3 L528.3 424.4 L531.5 424.4 L531.5 423.7 L534.0 423.7 L534.0 425.3 L539.0 425.3 L539.0 423.0 L541.1 423.0 L541.1 423.1 L544.1 423.1 L544.1 425.1 L548.8 425.1 L548.8 424.9 L551.0 424.9 L551.0 424.7 L555.1 424.7 L555.1 424.3 L560.1 424.3 L560.1 422.5 L562.5 422.5 L562.5 424.6 L567.3 424.6 L567.3 424.4 L570.2 424.4 L570.2 424.1 L574.5 424.1 L574.5 422.6 L577.5 422.6 L577.5 423.1 L579.8 423.1 L579.8 423.8 L582.3 423.8 L582.3 423.0 L584.8 423.0 L584.8 424.4 L586.8 424.4 L586.8 424.5 L589.4 424.5 L589.4 422.4 L594.2 422.4 L594.2 423.0 L599.0 423.0 L599.0 424.9 L603.6 424.9 L603.6 422.7 L607.0 422.7 L607.0 422.6 L611.8 422.6 L611.8 424.8 L615.7 424.8 L615.7 423.7 L618.7 423.7 L618.7 424.8 L622.1 424.8 L622.1 424.2 L624.5 424.2 L624.5 423.0 L626.7 423.0 L626.7 424.4 L630.4 424.4 L630.4 422.7 L635.0 422.7 L635.0 423.1 L638.2 423.1 L638.2 422.8 L641.0 422.8 L641.0 424.8 L644.0 424.8 L644.0 422.8 L647.5 422.8 L647.5 423.2 L652.2 423.2 L652.2 422.6 L657.2 422.6 L657.2 422.5 L661.8 422.5 L661.8 424.3 L664.5 424.3 L664.5 423.7 L667.3 423.7 L667.3 423.1 L669.9 423.1 L669.9 423.4 L674.9 423.4 L674.9 425.3 L679.7 425.3 L679.7 422.6 L682.6 422.6 L682.6 425.0 L684.7 425.0 L684.7 424.4 L687.6 424.4 L687.6 425.2 L689.7 425.2 L689.7 424.7 L692.7 424.7 L692.7 422.7 L694.7 422.7 L694.7 424.8 L698.3 424.8 L698.3 422.8 L701.6 422.8 L701.6 425.0 L704.2 425.0 L704.2 424.0 L706.6 424.0 L706.6 422.8 L711.0 422.8 L711.0 424.4 L713.5 424.4 L713.5 422.5 L715.8 422.5 L715.8 424.1 L719.3 424.1 L719.3 423.1 L721.9 423.1 L721.9 424.1 L726.0 424.1 L726.0 424.7 L729.8 424.7 L729.8 422.8 L732.0 422.8 L732.0 424.4 L735.2 424.4 L735.2 424.4 L737.4 424.4 L737.4 424.7 L740.4 424.7 L740.4 424.8 L745.0 424.8 L745.0 423.7 L747.0 423.7 L747.0 425.0 L750.4 425.0 L750.4 424.8 L753.2 424.8 L753.2 422.8 L757.7 422.8 L757.7 423.3 L760.2 423.3 L760.2 423.3 L764.0 423.3 L764.0 422.2 L767.6 422.2 L767.6 423.6 L771.1 423.6 L771.1 422.6 L775.3 422.6 L775.3 424.7 L779.9 424.7 L779.9 423.2 L784.0 423.2 L784.0 423.4 L788.2 423.4 L788.2 422.4 L792.9 422.4 L792.9 425.1 L796.3 425.1 L796.3 423.7 L799.9 423.7 L799.9 423.8 L802.0 423.8 L802.0 425.1 L804.7 425.1 L804.7 422.7 L807.0 422.7 L807.0 422.9 L811.4 422.9 L811.4 422.3 L813.7 422.3 L813.7 424.3 L816.3 424.3 L816.3 422.2 L820.1 422.2 L820.1 423.9 L823.7 423.9 L823.7 424.3 L826.0 424.3 L826.0 424.8 L830.1 424.8 L830.1 422.3 L832.5 422.3 L832.5 423.7 L836.0 423.7 L836.0 423.0 L838.4 423.0 L838.4 423.4 L840.8 423.4 L840.8 424.0 L845.4 424.0 L845.4 422.6 L849.1 422.6 L849.1 424.4 L851.6 424.4 L851.6 424.7 L856.4 424.7 L856.4 423.3 L859.7 423.3 L859.7 424.7 L863.2 424.7 L863.2 423.4 L868.1 423.4 L868.1 424.5 L871.1 424.5 L871.1 422.9 L874.1 422.9 L874.1 423.5 L879.0 423.5 L879.0 424.6 L883.8 424.6 L883.8 424.6 L888.3 424.6 L888.3 422.3 L891.8 422.3 L891.8 425.0 L896.7 425.0 L896.7 422.9 L899.9 422.9 L899.9 424.0 L903.0 424.0 L903.0 423.7 L905.2 423.7 L905.2 423.4 L908.7 423.4 L908.7 422.2 L911.2 422.2 L911.2 425.0 L915.5 425.0 L915.5 424.9 L919.4 424.9 L919.4 424.6 L924.0 424.6 L924.0 424.8 L926.1 424.8 L926.1 424.1 L928.9 424.1 L928.9 424.2 L931.8 424.2 L931.8 423.8 L936.5 423.8 L936.5 424.0 L939.3 424.0 L939.3 423.7 L942.6 423.7 L942.6 425.0 L945.4 425.0 L945.4 423.0 L949.4 423.0 L949.4 422.5 L953.2 422.5 L953.2 425.0 L956.7 425.0 L956.7 422.9 L960.1 422.9 L960.1 423.7 L962.6 423.7 L962.6 422.5 L964.9 422.5 L964.9 423.0 L968.2 423.0 L968.2 423.0 L970.9 423.0 L970.9 422.4 L974.5 422.4 L974.5 424.6 L978.4 424.6 L978.4 423.8 L982.3 423.8 L982.3 422.7 L986.5 422.7 L986.5 423.5 L990.1 423.5 L990.1 423.9 L993.5 423.9 L993.5 423.0 L996.2 423.0 L996.2 422.8 L999.8 422.8 L999.8 423.2 L1003.5 423.2 L1003.5 422.1 L1006.6 422.1 L1006.6 424.7 L1009.3 424.7 L1009.3 423.8 L1012.8 423.8 L1012.8 422.9 L1017.7 422.9 L1017.7 423.0 L1022.0 423.0 L1022.0 422.5 L1024.2 422.5 L1024.2 424.7 L1027.6 424.7 L1027.6 422.3 L1030.7 422.3 L1030.7 423.4 L1034.9 423.4 L1034.9 422.4 L1037.6 422.4 L1037.6 424.9 L1041.8 424.9 L1041.8 422.5 L1044.8 422.5 L1044.8 423.1 L1048.9 423.1 L1048.9 423.9 L1053.4 423.9 L1053.4 424.5 L1057.0 424.5 L1057.0 424.3 L1061.2 424.3 L1061.2 424.3 L1064.6 424.3 L1064.6 424.4 L1068.8 424.4 L1068.8 424.8 L1071.1 424.8 L1071.1 424.7 L1073.1 424.7 L1073.1 424.3 L1076.9 424.3 L1076.9 423.5 L1081.8 423.5 L1081.8 423.8 L1085.0 423.8 L1085.0 424.4 L1089.7 424.4 L1089.7 423.9 L1092.8 423.9 L1092.8 423.4 L1096.2 423.4 L1096.2 424.2 L1099.1 424.2 L1099.1 423.2 L1102.7 423.2 L1102.7 423.2 L1105.7 423.2 L1105.7 424.4 L1110.2 424.4 L1110.2 423.5 L1113.6 423.5 L1113.6 422.6 L1116.5 422.6 L1116.5 422.5 L1120.2 422.5 L1120.2 423.8 L1122.5 423.8 L1122.5 424.8 L1125.4 424.8 L1125.4 424.5 L1130.0 424.5 L1130.0 424.9 L1132.6 424.9 L1132.6 423.3 L1137.3 423.3 L1137.3 422.0 L1139.4 422.0 L1139.4 423.7 L1142.9 423.7 L1142.9 424.8 L1147.3 424.8 L1147.3 423.6 L1152.3 423.6 L1152.3 423.4 L1155.8 423.4 L1155.8 423.5 L1159.0 423.5 L1159.0 422.3 L1162.8 422.3 L1162.8 421.9 L1167.6 421.9 L1167.6 422.5 L1171.2 422.5 L1171.2 420.4 L1174.3 420.4 L1174.3 421.1 L1178.0 421.1 L1178.0 421.3 L1182.6 421.3 L1182.6 422.0 L1186.1 422.0 L1186.1 420.2 L1190.0 420.2 L1190.0 421.5 L1193.0 421.5 L1193.0 420.1 L1197.4 420.1 L1197.4 419.0 L1200.4 419.0 L1200.4 421.4 L1204.9 421.4 L1204.9 420.0 L1207.2 420.0 L1207.2 421.2 L1211.3 421.2 L1211.3 421.0 L1216.2 421.0 L1216.2 421.2 L1219.5 421.2 L1219.5 419.0 L1222.4 419.0 L1222.4 420.0 L1225.9 420.0 L1225.9 419.1 L1228.4 419.1 L1228.4 420.4 L1232.2 420.4 L1232.2 419.6 L1237.2 419.6 L1237.2 420.4 L1239.4 420.4 L1239.4 419.7 L1243.7 419.7 L1243.7 419.4 L1247.8 419.4 L1247.8 418.5 L1250.7 418.5 L1250.7 421.0 L1254.5 421.0 L1254.5 420.5 L1257.0 420.5 L1257.0 420.0 L1260.7 420.0 L1260.7 419.3 L1264.6 419.3 L1264.6 420.1 L1269.6 420.1 L1269.6 420.2 L1272.9 420.2 L1272.9 418.9 L1275.3 418.9 L1275.3 420.8 L1277.7 420.8 L1277.7 418.8 L1280.2 418.8 L1280.2 420.1 L1284.6 420.1 L1284.6 420.3 L1289.1 420.3 L1289.1 418.7 L1291.1 418.7 L1291.1 421.0 L1294.1 421.0 L1294.1 421.3 L1297.1 421.3 L1297.1 420.1 L1299.9 420.1 L1299.9 420.4 L1304.6 420.4 L1304.6 422.6 L1307.7 422.6 L1307.7 422.7 L1310.8 422.7 L1310.8 422.0 L1315.5 422.0 L1315.5 424.3 L1320.4 424.3 L1320.4 424.6 L1324.3 424.6 L1324.3 424.1 L1326.4 424.1 L1326.4 426.1 L1331.0 426.1 L1331.0 424.3 L1335.6 424.3 L1335.6 425.8 L1338.6 425.8 L1338.6 425.2 L1343.4 425.2 L1343.4 424.9 L1348.3 424.9 L1348.3 424.1 L1351.5 424.1 L1351.5 425.5 L1354.1 425.5 L1354.1 424.3 L1358.7 424.3 L1358.7 424.9 L1363.1 424.9 L1363.1 424.1 L1365.6 424.1 L1365.6 424.5 L1368.2 424.5 L1368.2 426.3 L1371.1 426.3 L1371.1 425.1 L1373.4 425.1 L1373.4 425.0 L1376.6 425.0 L1376.6 424.7 L1378.8 424.7 L1378.8 423.8 L1383.3 423.8 L1383.3 424.5 L1386.0 424.5 L1386.0 424.1 L1388.8 424.1 L1388.8 424.2 L1390.9 424.2 L1390.9 425.5 L1394.0 425.5 L1394.0 424.0 L1398.1 424.0 L1398.1 423.8 L1400.9 423.8 L1400.9 426.0 L1403.3 426.0 L1403.3 424.9 L1407.8 424.9 L1407.8 426.0 L1410.3 426.0 L1410.3 424.6 L1414.4 424.6 L1414.4 424.7 L1419.3 424.7 L1419.3 424.2 L1424.2 424.2 L1424.2 425.1 L1426.8 425.1 L1426.8 425.0 L1429.2 425.0 L1429.2 425.7 L1432.0 425.7 L1432.0 426.3 L1435.8 426.3 L1435.8 424.7 L1438.5 424.7 L1438.5 425.4 L1441.2 425.4 L1441.2 426.2 L1443.5 426.2 L1443.5 425.2 L1447.2 425.2 L1447.2 424.5 L1451.5 424.5 L1451.5 424.8 L1455.4 424.8 L1455.4 425.4 L1458.4 425.4 L1458.4 424.8 L1460.6 424.8 L1460.6 424.2 L1465.2 424.2 L1465.2 424.7 L1469.2 424.7 L1469.2 424.0 L1472.9 424.0 L1472.9 424.8 L1476.4 424.8 L1476.4 424.6 L1478.6 424.6 L1478.6 424.7 L1481.2 424.7 L1481.2 424.1 L1485.4 424.1 L1485.4 424.6 L1488.6 424.6 L1488.6 426.5 L1492.9 426.5 L1492.9 426.4 L1497.5 426.4 L1497.5 424.2 L1500.3 424.2 L1500.3 423.9 L1504.4 423.9 L1504.4 425.8 L1507.4 425.8 L1507.4 425.1 L1511.4 425.1 L1511.4 425.9 L1514.2 425.9 L1514.2 426.4 L1517.2 426.4 L1517.2 425.7 L1519.8 425.7 L1519.8 424.2 L1524.5 424.2 L1524.5 426.1 L1528.6 426.1 L1528.6 424.0 L1530.7 424.0 L1530.7 424.4 L1533.3 424.4 L1533.3 424.8 L1536.5 424.8 L1536.5 424.0 L1539.4 424.0 L1539.4 425.8 L1542.0 425.8 L1542.0 426.4 L1545.7 426.4 L1545.7 426.1 L1548.4 426.1 L1548.4 425.2 L1552.5 425.2 L1552.5 425.0 L1554.5 425.0 L1554.5 426.4 L1558.8 426.4 L1558.8 424.8 L1560.9 424.8 L1560.9 426.5 L1564.8 426.5 L1564.8 424.1 L1567.5 424.1 L1567.5 424.3 L1571.9 424.3 L1571.9 424.6 L1574.0 424.6" fill="none" stroke="#416e9b" stroke-width="4.5" stroke-linejoin="miter"/>
<path d="M1658.5 431.6 L1662.7 431.6 L1662.7 430.2 L1664.4 430.2 L1664.4 429.7 L1668.9 429.7 L1668.9 430.6 L1673.2 430.6 L1673.2 429.2 L1676.1 429.2 L1676.1 433.6 L1680.1 433.6 L1680.1 433.1 L1682.0 433.1 L1682.0 433.6 L1686.9 433.6 L1686.9 433.1 L1688.8 433.1 L1688.8 429.7 L1694.2 429.7 L1694.2 427.8 L1698.6 427.8 L1698.6 428.2 L1702.5 428.2 L1702.5 431.6 L1707.4 431.6 L1707.4 432.6 L1711.3 432.6 L1711.3 427.2 L1714.2 427.2 L1714.2 431.6 L1718.1 431.6 L1718.1 428.2 L1723.0 428.2 L1723.0 428.7 L1725.9 428.7 L1725.9 429.7 L1729.8 429.7 L1729.8 428.7 L1735.7 428.7 L1735.7 430.6 L1741.6 430.6 L1741.6 432.6 L1745.5 432.6 L1745.5 427.7 L1749.4 427.7 L1749.4 431.1 L1754.3 431.1 L1754.3 430.2 L1759.1 430.2 L1759.1 426.2 L1762.1 426.2 L1762.1 430.6 L1767.0 430.6 L1767.0 429.7 L1772.0 429.7 L1772.0 430.0 L1776.7 430.0 L1776.7 431.6 L1781.1 431.6 L1781.1 432.5 L1784.4 432.5 L1784.4 431.2 L1786.5 431.2 L1786.5 432.1 L1791.4 432.1 L1791.4 424.8 L1794.3 424.8 L1794.3 428.2 L1799.3 428.2 L1799.3 429.7 L1801.1 429.7 L1801.1 430.6 L1806.0 430.6 L1806.0 429.7 L1810.7 429.7 L1810.7 427.0 L1815.8 427.0 L1815.8 425.3 L1820.7 425.3 L1820.7 429.7 L1825.5 429.7 L1825.5 427.2 L1830.4 427.2 L1830.4 431.1 L1835.3 431.1 L1835.3 431.6 L1841.1 431.6 L1841.1 430.4 L1843.4 430.4 L1843.4 431.4 L1846.5 431.4 L1846.5 429.2 L1848.6 429.2 L1848.6 429.3 L1852.8 429.3 L1852.8 429.3 L1854.4 429.3 L1854.4 414.3 L1855.0 414.3 L1855.0 429.3 L1856.7 429.3 L1856.7 429.7 L1861.4 429.7 L1861.4 430.5 L1864.5 430.5 L1864.5 430.5 L1868.3 430.5 L1868.3 431.0 L1874.1 431.0 L1874.1 427.6 L1876.0 427.6 L1876.0 425.0 L1879.4 425.0 L1879.4 425.0 L1882.7 425.0 L1882.7 428.9 L1884.5 428.9 L1884.5 430.5 L1886.7 430.5 L1886.7 426.3 L1889.7 426.3 L1889.7 427.0 L1891.4 427.0 L1891.4 429.3 L1894.8 429.3 L1894.8 431.2 L1898.2 431.2 L1898.2 431.0 L1901.7 431.0 L1901.7 426.7 L1905.1 426.7 L1905.1 424.9 L1908.5 424.9 L1908.5 425.4 L1912.8 425.4 L1912.8 424.1 L1917.1 424.1 L1917.1 426.7 L1921.4 426.7 L1921.4 424.6 L1925.7 424.6 L1925.7 429.7 L1931.0 429.7 L1931.0 428.2 L1932.5 428.2 L1932.5 427.1 L1938.5 427.1 L1938.5 427.1 L1941.9 427.1 L1941.9 422.8 L1945.4 422.8 L1945.4 427.5 L1951.3 427.5 L1951.3 428.4 L1955.6 428.4 L1955.6 427.1 L1961.6 427.1 L1961.6 423.3 L1965.1 423.3 L1965.1 426.7 L1968.5 426.7 L1968.5 428.0 L1971.9 428.0 L1971.9 422.4 L1973.6 422.4 L1973.6 423.3 L1975.0 423.3 L1975.0 418.6 L1975.6 418.6 L1975.6 423.3 L1977.0 423.3 L1977.0 428.0 L1980.5 428.0 L1980.5 423.3 L1983.9 423.3 L1983.9 428.4 L1984.5 428.4 L1984.5 267.0 L1985.0 267.0 L1985.0 428.4 L1985.6 428.4 L1985.6 430.5 L1989.0 430.5 L1989.0 427.5 L1989.2 427.5 L1989.2 418.1 L1989.8 418.1 L1989.8 427.5 L1991.6 427.5 L1991.6 429.3 L1993.3 429.3 L1993.3 427.5 L1993.5 427.5" fill="none" stroke="#416e9b" stroke-width="4.0" stroke-linejoin="miter"/>
</svg>
<div class="xl" style="left:155.4px">9:00 AM</div>
<div class="xl" style="left:369.3px">12:00 PM</div>
<div class="xl" style="left:583.1px">3:00 PM</div>
<div class="xl" style="left:797.0px">6:00 PM</div>
<div class="xl" style="left:1011.0px">9:00 PM</div>
<div class="xl b" style="left:1224.8px">Jan 18</div>
<div class="xl" style="left:1438.8px">3:00 AM</div>
<div class="xl" style="left:1652.6px">6:00 AM</div>
<div class="yl" style="top:179.2px">15</div>
<div class="yl" style="top:286.4px">10</div>
<div class="yl" style="top:392.9px">5</div>
<div class="yl" style="top:500.4px">0</div>
<div id="ms">ms</div>
</body></html>
